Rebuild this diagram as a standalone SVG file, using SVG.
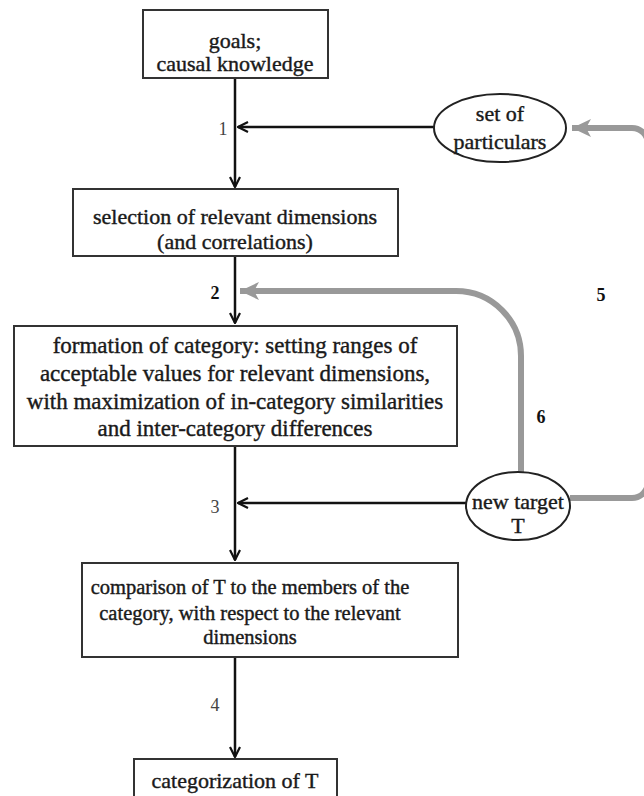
<svg xmlns="http://www.w3.org/2000/svg" width="644" height="796" viewBox="0 0 644 796">
<defs>
<style>
.box{fill:#fff;stroke:#333;stroke-width:2}
.ell{fill:#fff;stroke:#222;stroke-width:2}
.t{font-family:"Liberation Serif","Times New Roman",serif;font-size:22px;fill:#1a1a1a;stroke:#1a1a1a;stroke-width:0.4;text-anchor:middle;dominant-baseline:central}
.n{font-family:"Liberation Serif","Times New Roman",serif;font-size:18px;text-anchor:middle;dominant-baseline:central}
.blk{fill:none;stroke:#111;stroke-width:2.5}
.gry{fill:none;stroke:#999;stroke-width:6}
</style>
<marker id="ab" viewBox="0 0 12 12" refX="11" refY="6" markerWidth="12" markerHeight="12" markerUnits="userSpaceOnUse" orient="auto">
<path d="M1,1 L11,6 L1,11" fill="none" stroke="#111" stroke-width="2.2"/>
</marker>
<marker id="ag" viewBox="0 0 20 20" refX="19" refY="10" markerWidth="20" markerHeight="20" markerUnits="userSpaceOnUse" orient="auto">
<path d="M0,1 L19,10 L0,19 L5,10 Z" fill="#999"/>
</marker>
</defs>
<g id="connectors">
<line class="blk" x1="235" y1="78" x2="235" y2="187" marker-end="url(#ab)"/>
<line class="blk" x1="434" y1="127" x2="238" y2="127" marker-end="url(#ab)"/>
<line class="blk" x1="235" y1="256" x2="235" y2="323" marker-end="url(#ab)"/>
<line class="blk" x1="235" y1="446" x2="235" y2="560" marker-end="url(#ab)"/>
<line class="blk" x1="466" y1="503" x2="238" y2="503" marker-end="url(#ab)"/>
<line class="blk" x1="235" y1="657" x2="235" y2="757" marker-end="url(#ab)"/>
<path class="gry" d="M570,498 L632,498 A16,16 0 0 0 648,482 L648,144 A16,16 0 0 0 632,128 L572,128" marker-end="url(#ag)"/>
<path class="gry" d="M521,473 L521,356 A65,65 0 0 0 456,291 L240,291" marker-end="url(#ag)"/>
<text class="n" x="223" y="129" fill="#444">1</text>
<text class="n" x="215" y="293" fill="#111" font-weight="bold">2</text>
<text class="n" x="215" y="507" fill="#444">3</text>
<text class="n" x="215" y="705" fill="#444">4</text>
<text class="n" x="601" y="295" fill="#111" font-weight="bold">5</text>
<text class="n" x="541" y="417" fill="#111" font-weight="bold">6</text>
</g>
<g id="goals">
<rect class="box" x="143" y="10" width="185" height="68"/>
<text class="t" x="235" y="40">goals;</text>
<text class="t" x="235" y="63">causal knowledge</text>
</g>
<g id="particulars">
<ellipse class="ell" cx="500" cy="128" rx="66" ry="34"/>
<text class="t" x="500" y="113">set of</text>
<text class="t" x="500" y="141">particulars</text>
</g>
<g id="selection">
<rect class="box" x="73" y="189" width="325" height="67"/>
<text class="t" x="235" y="216">selection of relevant dimensions</text>
<text class="t" x="235" y="241">(and correlations)</text>
</g>
<g id="formation" style="font-size:23px">
<rect class="box" x="14" y="326" width="443" height="120"/>
<text class="t" x="235" y="345" style="font-size:23px">formation of category: setting ranges of</text>
<text class="t" x="235" y="373" style="font-size:23px">acceptable values for relevant dimensions,</text>
<text class="t" x="235" y="401" style="font-size:23px">with maximization of in-category similarities</text>
<text class="t" x="235" y="428" style="font-size:23px">and inter-category differences</text>
</g>
<g id="target">
<ellipse class="ell" cx="518" cy="506" rx="52" ry="34"/>
<text class="t" x="518" y="501">new target</text>
<text class="t" x="518" y="525">T</text>
</g>
<g id="comparison">
<rect class="box" x="82" y="563" width="376" height="94"/>
<text class="t" x="250" y="587" style="font-size:20.5px">comparison of T to the members of the</text>
<text class="t" x="250" y="613" style="font-size:20.5px">category, with respect to the relevant</text>
<text class="t" x="250" y="637" style="font-size:20.5px">dimensions</text>
</g>
<g id="categorization">
<rect class="box" x="134" y="759" width="203" height="50"/>
<text class="t" x="235" y="780">categorization of T</text>
</g>
</svg>
